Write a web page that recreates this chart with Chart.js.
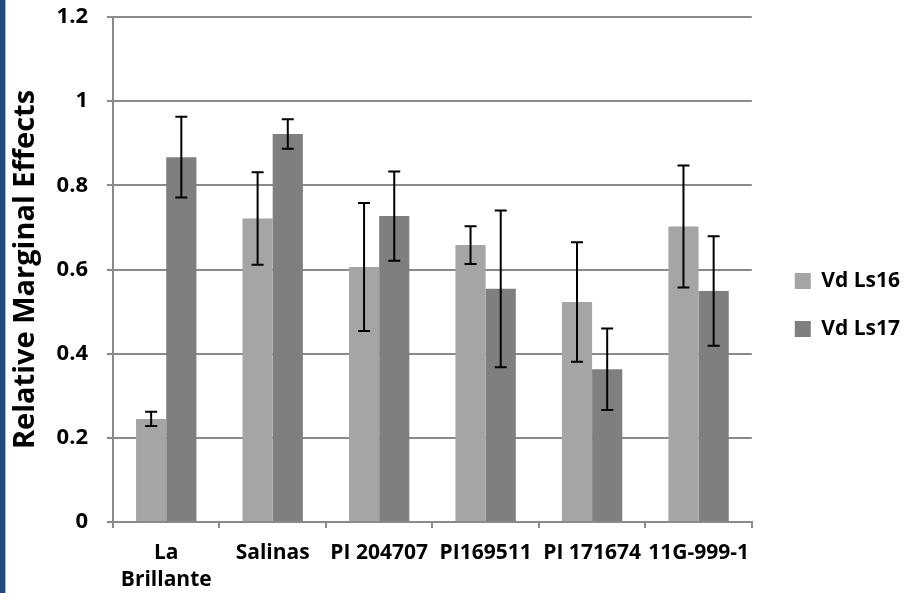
<!DOCTYPE html>
<html>
<head>
<meta charset="utf-8">
<script src="https://cdn.jsdelivr.net/npm/chart.js@4.4.0/dist/chart.umd.min.js"></script>
<style>
  html, body { margin: 0; padding: 0; background: #fff; overflow: hidden; }
  #wrap { position: relative; width: 906px; height: 593px; }
  #edge {
    position: absolute; left: 0; top: 0; width: 5px; height: 593px;
    background: #1f4a7e; border-right: 1px solid #a9b8cc;
  }
  canvas { position: absolute; left: 0; top: 0; }
</style>
</head>
<body>
<div id="wrap">
  <canvas id="chart" width="906" height="593"></canvas>
  <div id="edge"></div>
</div>
<script>
// categories + series (relative marginal effects, +/- error)
const cultivars = [["La", "Brillante"], "Salinas", "PI 204707", "PI169511", "PI 171674", "11G-999-1"];
const ls16 = [0.245, 0.721, 0.606, 0.658, 0.523, 0.702];
const ls16Err = [0.017, 0.110, 0.152, 0.045, 0.142, 0.145];
const ls17 = [0.867, 0.922, 0.727, 0.554, 0.363, 0.549];
const ls17Err = [0.096, 0.035, 0.106, 0.186, 0.097, 0.130];
const yTickLabels = ["0", "0.2", "0.4", "0.6", "0.8", "1", "1.2"];

const errors = [ls16Err, ls17Err];
const boldFont = (size) => ({ family: "'Open Sans'", weight: "bold", size: size });
const gridGray = "#8a8a8a";

// draw error whiskers on top of each bar using the y scale
const errorBars = {
  id: "errorBars",
  afterDatasetsDraw(chart) {
    const ctx = chart.ctx;
    const yScale = chart.scales.y;
    ctx.save();
    ctx.strokeStyle = "#000";
    ctx.lineWidth = 2;
    chart.data.datasets.forEach((ds, di) => {
      const meta = chart.getDatasetMeta(di);
      meta.data.forEach((bar, i) => {
        const v = ds.data[i];
        const e = errors[di][i];
        const top = yScale.getPixelForValue(v + e);
        const bot = yScale.getPixelForValue(v - e);
        const cap = 6;
        ctx.beginPath();
        ctx.moveTo(bar.x, top);
        ctx.lineTo(bar.x, bot);
        ctx.moveTo(bar.x - cap, top);
        ctx.lineTo(bar.x + cap, top);
        ctx.moveTo(bar.x - cap, bot);
        ctx.lineTo(bar.x + cap, bot);
        ctx.stroke();
      });
    });
    ctx.restore();
  },
};

const ctx = document.getElementById("chart").getContext("2d");
const myChart = new Chart(ctx, {
  type: "bar",
  data: {
    labels: cultivars,
    datasets: [
      {
        label: "Vd Ls16",
        data: ls16,
        backgroundColor: "#a5a5a5",
        categoryPercentage: 0.567,
        barPercentage: 1.0,
      },
      {
        label: "Vd Ls17",
        data: ls17,
        backgroundColor: "#7f7f7f",
        categoryPercentage: 0.567,
        barPercentage: 1.0,
      },
    ],
  },
  options: {
    responsive: false,
    animation: false,
    layout: {
      padding: { left: 6, top: 17, right: -4, bottom: 0 },
    },
    scales: {
      x: {
        afterFit(scale) {
          scale.height = 71;
        },
        grid: {
          drawOnChartArea: false,
          drawTicks: true,
          tickLength: 6,
          color: gridGray,
          lineWidth: 2,
        },
        border: { color: gridGray, width: 2 },
        ticks: {
          color: "#000",
          font: { family: "'Open Sans'", weight: "bold", size: 21, lineHeight: 1.3 },
          padding: 11,
          maxRotation: 0,
          autoSkip: false,
        },
      },
      y: {
        min: 0,
        max: 1.2,
        afterFit(scale) {
          scale.width = 107;
          scale.paddingTop = 0;
          scale.paddingBottom = 0;
        },
        grid: {
          color: gridGray,
          lineWidth: 2,
          tickLength: 6,
        },
        border: { color: gridGray, width: 2 },
        ticks: {
          stepSize: 0.2,
          color: "#000",
          font: boldFont(22),
          padding: 19,
          callback: (value, index) => yTickLabels[index],
        },
        title: {
          display: true,
          text: "Relative Marginal Effects",
          color: "#000",
          font: boldFont(29),
          padding: { top: 2, bottom: 0 },
        },
      },
      // empty axis, only keeps the legend away from the plot
      gap: {
        position: "right",
        afterFit(scale) {
          scale.width = 16;
        },
        grid: { display: false },
        border: { display: false },
        ticks: { display: false },
      },
    },
    plugins: {
      legend: {
        position: "right",
        labels: {
          color: "#000",
          font: boldFont(21),
          boxWidth: 16,
          boxHeight: 16,
          padding: 27,
        },
      },
      tooltip: { enabled: false },
    },
  },
  plugins: [errorBars],
});
</script>
</body>
</html>
